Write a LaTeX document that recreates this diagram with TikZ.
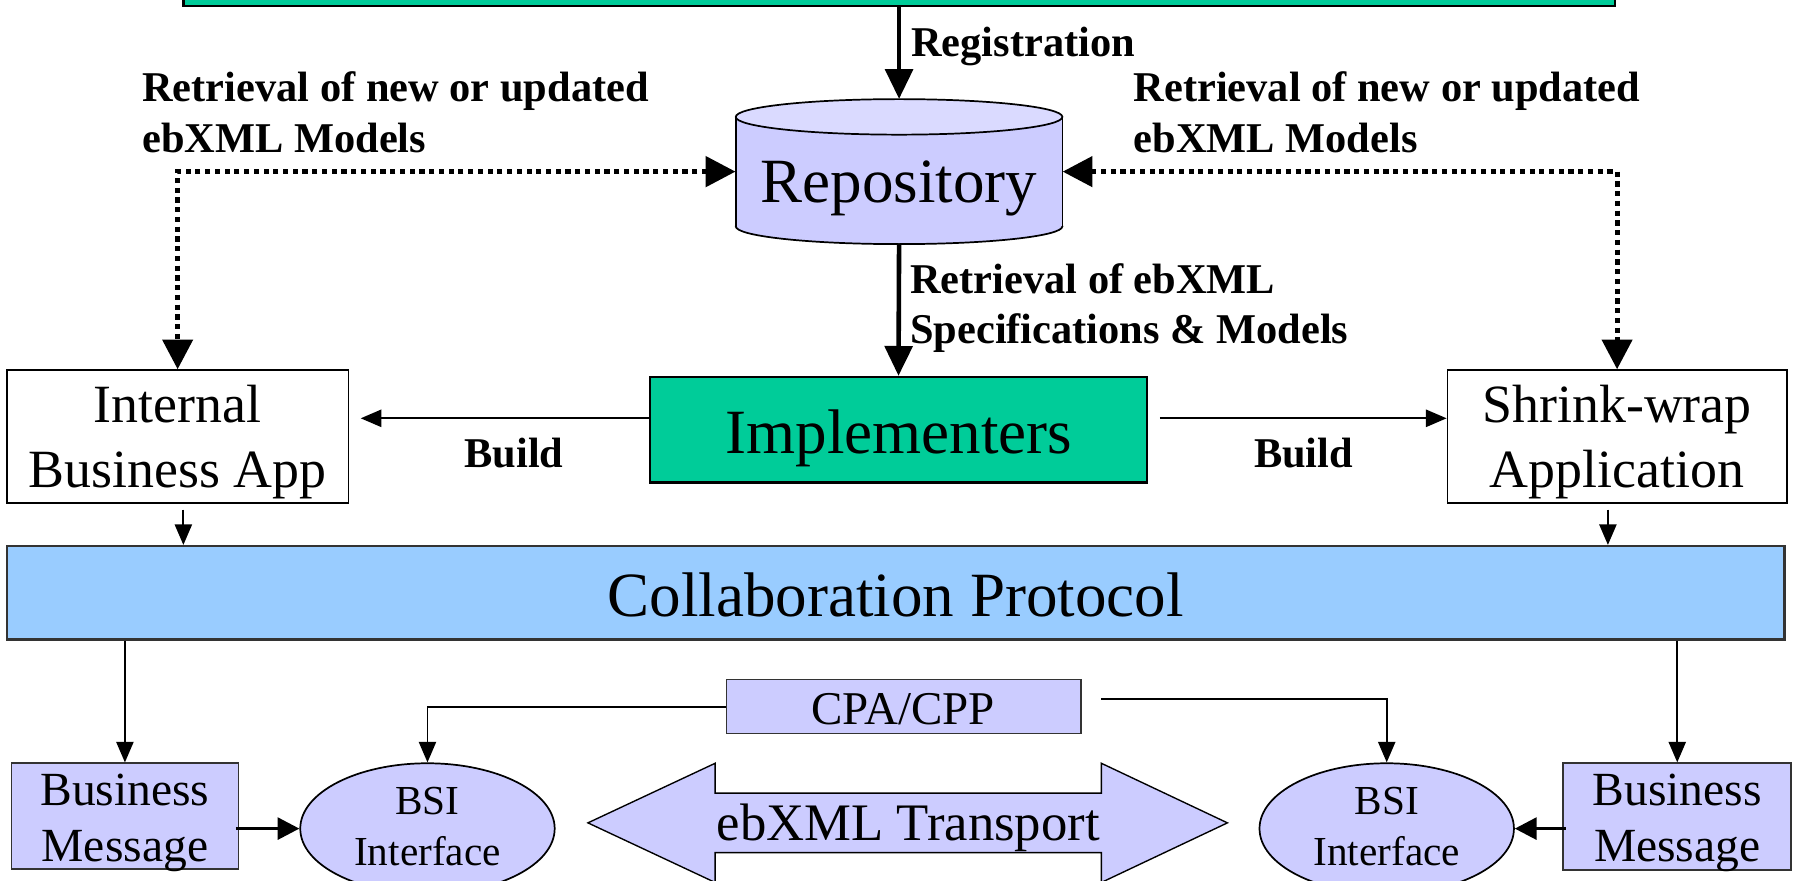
\documentclass[tikz,border=0pt]{standalone}
\usepackage{fontspec}
\setmainfont{Liberation Serif}
\usetikzlibrary{arrows.meta,shapes.geometric}
\newcommand{\myfs}[1]{\fontsize{#1}{#1}\selectfont}
\definecolor{tgreen}{HTML}{00CC99}
\definecolor{lav}{HTML}{CCCCFF}
\definecolor{lavtop}{HTML}{DADAFF}
\definecolor{cblue}{HTML}{99CCFF}
\begin{document}
\begin{tikzpicture}[x=1pt,y=-1pt,
  box/.style={draw, rectangle, inner sep=0pt, line width=1.5pt},
  txt/.style={inner sep=0pt, anchor=base},
  lbl/.style={inner sep=0pt, anchor=base west, font=\bfseries\myfs{37}},
  bigarrow/.style={line width=4pt, -{Triangle[length=26pt,width=24pt]}},
  dotarrow/.style={line width=4.5pt, dash pattern=on 4.5pt off 4pt, {Triangle[length=26pt,width=26pt]}-{Triangle[length=26pt,width=26pt]}},
  thinarrow/.style={line width=1.7pt, -{Triangle[length=18pt,width=15pt]}},
  medarrow/.style={line width=3pt, -{Triangle[length=19pt,width=19pt]}}
]
\useasboundingbox (0,0) rectangle (1568,768);
\clip (0,0) rectangle (1568,768);

% boxes
\node[box, fill=tgreen, line width=2pt, minimum width=1249, minimum height=35] (top) at (784.5,-12.5) {};
\node[inner sep=0pt, minimum width=285, minimum height=126.5] (repo) at (784.5,149.75) {};
\draw[fill=lav, line width=1.5pt] (784.5,197.5) ellipse [x radius=142.5, y radius=15.5];
\fill[lav] (642,102) rectangle (927,197.5);
\draw[line width=1.5pt] (642,102) -- (642,197.5) (927,102) -- (927,197.5);
\draw[fill=lavtop, line width=1.5pt] (784.5,102) ellipse [x radius=142.5, y radius=15.5];

\node[box, fill=tgreen, line width=2.2pt, minimum width=434, minimum height=92] (impl) at (784,375) {};
\node[box, fill=white, minimum width=298, minimum height=116] (iba) at (155,381) {};
\node[box, fill=white, minimum width=296, minimum height=116] (swa) at (1411,381) {};
\node[box, fill=cblue, draw=black!80, line width=2pt, minimum width=1551, minimum height=81.5] (collab) at (781.5,517.25) {};
\node[box, fill=lav, draw=black!80, minimum width=309, minimum height=47] (cpa) at (788.5,616.5) {};
\node[box, fill=lav, draw=black!80, minimum width=198, minimum height=92] (bml) at (109,712) {};
\node[box, fill=lav, draw=black!80, minimum width=199, minimum height=93] (bmr) at (1463.5,712.5) {};
\node[draw, ellipse, fill=lav, line width=1.5pt, inner sep=0pt, minimum width=222, minimum height=114] (bsil) at (373,723) {};
\node[draw, ellipse, fill=lav, line width=1.5pt, inner sep=0pt, minimum width=222, minimum height=114] (bsir) at (1210,723) {};
\draw[fill=lav, line width=1.2pt] (513,718) -- (624,666) -- (624,692) -- (961,692) -- (961,666) -- (1071,718) -- (961,770) -- (961,744) -- (624,744) -- (624,770) -- cycle;

% texts
\node[txt, font=\myfs{55}] (trepo) at (784.5,177) {Repository};
\node[txt, font=\myfs{55}] (timpl) at (784.5,396) {Implementers};
\node[txt, font=\myfs{55}] (tcol) at (781.5,537.5) {Collaboration Protocol};
\node[txt, font=\myfs{47}] (tiba1) at (155,369) {Internal};
\node[txt, font=\myfs{47}] (tiba2) at (155,425) {Business App};
\node[txt, font=\myfs{47}] (tswa1) at (1411,369) {Shrink-wrap};
\node[txt, font=\myfs{47}] (tswa2) at (1411,425) {Application};
\node[txt, font=\myfs{41}] (tcpa) at (788,632) {CPA/CPP};
\node[txt, font=\myfs{46}] (ttr) at (792.5,733) {ebXML Transport};
\node[txt, font=\myfs{41.5}] (tbml1) at (109,703) {Business};
\node[txt, font=\myfs{41.5}] (tbml2) at (109,752) {Message};
\node[txt, font=\myfs{41.5}] (tbmr1) at (1463.5,703) {Business};
\node[txt, font=\myfs{41.5}] (tbmr2) at (1463.5,752) {Message};
\node[txt, font=\myfs{36}] (tbsl1) at (373,711) {BSI};
\node[txt, font=\myfs{36}] (tbsl2) at (373,755) {Interface};
\node[txt, font=\myfs{36}] (tbsr1) at (1210,711) {BSI};
\node[txt, font=\myfs{36}] (tbsr2) at (1210,755) {Interface};

\node[lbl] (lreg) at (795,49.5) {Registration};
\node[lbl] (lnl1) at (124,89) {Retrieval of new or updated};
\node[lbl] (lnl2) at (124,133.5) {ebXML Models};
\node[lbl] (lnr1) at (989,89) {Retrieval of new or updated};
\node[lbl] (lnr2) at (989,133.5) {ebXML Models};
\node[lbl] (lsp1) at (794,256) {Retrieval of ebXML};
\node[lbl] (lsp2) at (794,300) {Specifications \& Models};
\node[lbl] (lb1) at (405,408) {Build};
\node[lbl] (lb2) at (1094,408) {Build};

% connectors
\coordinate (yb) at (0,365);
\coordinate (c1) at (160,0);
\coordinate (c2) at (1403,0);
\coordinate (cpaR) at (961,610);
\draw[bigarrow] (top.south) -- (repo.north);
\draw[bigarrow] (repo.south) -- (impl.north);
\draw[dotarrow] (repo.west) -| (iba.north);
\draw[dotarrow] (repo.east) -| (swa.north);
\draw[thinarrow, shorten >=10pt] (impl.west |- yb) -- (iba.east |- yb);
\draw[thinarrow, shorten <=10pt] (impl.east |- yb) -- (swa.west |- yb);
\draw[thinarrow] ([yshift=-5]iba.south -| c1) -- (collab.north -| c1);
\draw[thinarrow] ([yshift=-5]swa.south -| c2) -- (collab.north -| c2);
\draw[thinarrow] (collab.south -| bml.north) -- (bml.north);
\draw[thinarrow] (collab.south -| bmr.north) -- (bmr.north);
\draw[thinarrow] (cpa.west) -| (bsil.north);
\draw[thinarrow] (cpaR) -| (bsir.north);
\draw[medarrow] ([xshift=-3]bml.east |- bsil.west) -- (bsil.west);
\draw[medarrow] ([xshift=3]bmr.west |- bsir.east) -- (bsir.east);
\end{tikzpicture}
\end{document}
